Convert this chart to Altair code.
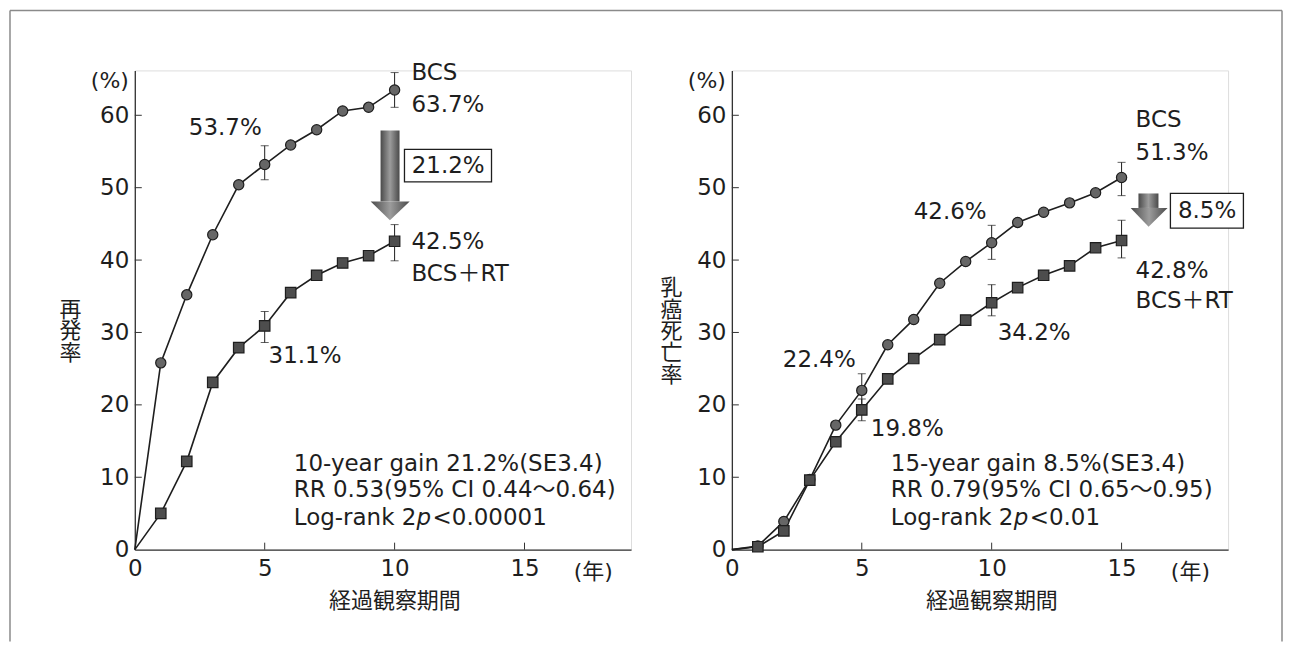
import altair as alt
import pandas as pd

FONT = "DejaVu Sans, 'Noto Sans CJK JP', sans-serif"
JP = "'Noto Sans CJK JP', sans-serif"
INK = "#1e1e1e"

# ---------------- data ----------------
x_ticks = [0, 5, 10, 15]
y_ticks = [0, 10, 20, 30, 40, 50, 60]
x_max = 19.1
y_max = 66.2

years_left = list(range(11))
bcs_left = [0, 25.8, 35.2, 43.5, 50.4, 53.2, 55.9, 58.0, 60.6, 61.1, 63.5]
rt_left = [0, 5.0, 12.2, 23.1, 27.9, 30.9, 35.5, 37.9, 39.6, 40.6, 42.6]

years_right = list(range(16))
bcs_right = [0, 0.5, 3.9, 9.7, 17.2, 22.0, 28.3, 31.8, 36.8, 39.8, 42.4, 45.2, 46.6, 47.9, 49.3, 51.4]
rt_right = [0, 0.4, 2.6, 9.6, 14.9, 19.3, 23.6, 26.4, 29.0, 31.7, 34.1, 36.2, 37.9, 39.2, 41.7, 42.7]

err_years_left = [5, 10]
bcs_lo_left = [51.1, 61.1]
bcs_hi_left = [55.8, 65.9]
rt_lo_left = [28.6, 39.9]
rt_hi_left = [32.9, 44.9]

err_years_right = [5, 10, 15]
bcs_lo_right = [19.8, 40.1, 48.9]
bcs_hi_right = [24.3, 44.8, 53.5]
rt_lo_right = [17.8, 32.3, 40.3]
rt_hi_right = [20.8, 36.6, 45.5]

labels_left = ["BCS", "63.7%", "53.7%", "42.5%", "BCS＋RT", "31.1%"]
labels_left_x = [10.65, 10.65, 2.08, 10.65, 10.65, 5.15]
labels_left_y = [65.9, 61.4, 58.2, 42.5, 38.1, 26.8]

labels_right = ["BCS", "51.3%", "42.6%", "34.2%", "22.4%", "19.8%", "42.8%", "BCS＋RT"]
labels_right_x = [15.54, 15.54, 7.0, 10.23, 1.96, 5.35, 15.54, 15.54]
labels_right_y = [59.3, 54.8, 46.6, 29.9, 26.2, 16.7, 38.5, 34.3]

gain_left = "21.2%"
gain_right = "8.5%"
stats_left = ["10-year gain 21.2%(SE3.4)", "RR 0.53(95% CI 0.44～0.64)"]
stats_right = ["15-year gain 8.5%(SE3.4)", "RR 0.79(95% CI 0.65～0.95)"]
logrank_left = "<0.00001"
logrank_right = "<0.01"

# annotation geometry (data units)
arrow_left = dict(x0=9.46, x1=10.19, top=57.9, base=48.1, hx0=9.08, hc=9.82, hx1=10.58, tip=45.5)
arrow_right = dict(x0=15.65, x1=16.42, top=49.2, base=47.2, hx0=15.35, hc=16.04, hx1=16.77, tip=44.6)
box_left = dict(x0=10.38, x1=13.73, y0=50.8, y1=55.3, tx=12.06, ty=53.0)
box_right = dict(x0=16.88, x1=19.69, y0=44.4, y1=49.2, tx=18.29, ty=46.8)

# ---------------- helpers ----------------
x_scale = alt.Scale(domain=[0, x_max], nice=False, zero=False)
y_scale = alt.Scale(domain=[0, y_max], nice=False, zero=False)


def x_axis():
    return alt.Axis(values=x_ticks, ticks=False, grid=False, domainColor="#333", domainWidth=1.3,
                    labelFont=FONT, labelFontSize=23, labelColor=INK, labelPadding=8, labelFlush=False,
                    title="経過観察期間", titleFont=JP, titleFontSize=22, titleFontWeight="normal",
                    titleColor=INK, titleX=260, titleY=51, titleAlign="center", titleBaseline="middle")


def y_axis(title, tx, ty):
    return alt.Axis(values=y_ticks, ticks=False, grid=False, domainColor="#333", domainWidth=1.3,
                    labelFont=FONT, labelFontSize=23, labelColor=INK, labelPadding=6,
                    title=list(title), titleFont=JP, titleFontSize=22, titleFontWeight="normal",
                    titleColor=INK, titleAngle=0, titleX=tx, titleY=ty, titleAlign="center",
                    titleBaseline="top", titleLineHeight=22)


def X(f="x", ax=None):
    return alt.X(f"{f}:Q", scale=x_scale, axis=ax)


def Y(f="y", ax=None):
    return alt.Y(f"{f}:Q", scale=y_scale, axis=ax)


def panel(years, bcs, rt, ey, blo, bhi, rlo, rhi, labs, lx, ly, arrow, box, gain,
          stats, logrank, ytitle, ytx, tty, frame=False):
    xa = x_axis()
    ya = y_axis(ytitle, ytx, tty)

    lines_df = pd.DataFrame({"x": years + years, "y": bcs + rt,
                             "s": ["BCS"] * len(years) + ["RT"] * len(years)})
    pts_b = pd.DataFrame({"x": years[1:], "y": bcs[1:]})
    pts_r = pd.DataFrame({"x": years[1:], "y": rt[1:]})
    err_df = pd.DataFrame({"x": ey + ey, "y": blo + rlo, "y2": bhi + rhi})
    cap_df = pd.DataFrame({"x": ey * 4, "y": blo + bhi + rlo + rhi})

    layers = []
    layers.append(alt.Chart(lines_df).mark_line(color=INK, strokeWidth=1.6).encode(
        x=X("x", xa), y=Y("y", ya), detail="s:N"))
    layers.append(alt.Chart(err_df).mark_rule(color=INK, strokeWidth=1).encode(
        x=X("x", xa), y=Y("y", ya), y2="y2:Q"))
    layers.append(alt.Chart(cap_df).mark_tick(orient="horizontal", size=8, thickness=1, color=INK).encode(
        x=X("x", xa), y=Y("y", ya)))
    layers.append(alt.Chart(pts_b).mark_circle(size=105, color="#666666", stroke=INK, strokeWidth=1.2,
                                               opacity=1).encode(x=X("x", xa), y=Y("y", ya)))
    layers.append(alt.Chart(pts_r).mark_square(size=110, color="#4d4d4d", stroke=INK, strokeWidth=1.2,
                                               opacity=1).encode(x=X("x", xa), y=Y("y", ya)))

    grad = alt.Gradient(gradient="linear",
                        stops=[alt.GradientStop(color="#4a4a4a", offset=0),
                               alt.GradientStop(color="#9c9c9c", offset=0.5),
                               alt.GradientStop(color="#4a4a4a", offset=1)],
                        x1=0, x2=1, y1=0, y2=0)
    shaft = pd.DataFrame({"x": [arrow["x0"]], "x2": [arrow["x1"]], "y": [arrow["top"]], "y2": [arrow["base"]]})
    layers.append(alt.Chart(shaft).mark_rect(color=grad).encode(
        x=X("x", xa), x2="x2:Q", y=Y("y", ya), y2="y2:Q"))
    head = pd.DataFrame({"x": [arrow["hx0"], arrow["hc"], arrow["hx1"]],
                         "y": [arrow["base"]] * 3,
                         "y2": [arrow["base"], arrow["tip"], arrow["base"]]})
    layers.append(alt.Chart(head).mark_area(color=grad, opacity=1).encode(
        x=X("x", xa), y=Y("y", ya), y2="y2:Q"))

    box_df = pd.DataFrame({"x": [box["x0"]], "x2": [box["x1"]], "y": [box["y0"]], "y2": [box["y1"]]})
    layers.append(alt.Chart(box_df).mark_rect(fill="white", stroke=INK, strokeWidth=1.3).encode(
        x=X("x", xa), x2="x2:Q", y=Y("y", ya), y2="y2:Q"))
    gain_df = pd.DataFrame({"x": [box["tx"]], "y": [box["ty"]], "t": [gain]})
    layers.append(alt.Chart(gain_df).mark_text(font=FONT, fontSize=23, color=INK, align="center",
                                               baseline="middle").encode(
        x=X("x", xa), y=Y("y", ya), text="t:N"))

    lab_df = pd.DataFrame({"x": lx, "y": ly, "t": labs})
    layers.append(alt.Chart(lab_df).mark_text(font=FONT, fontSize=23, color=INK, align="left",
                                              baseline="middle").encode(
        x=X("x", xa), y=Y("y", ya), text="t:N"))

    st_df = pd.DataFrame({"x": [6.12, 6.12], "y": [11.86, 8.28], "t": stats})
    layers.append(alt.Chart(st_df).mark_text(font=FONT, fontSize=23, color=INK, align="left",
                                             baseline="middle").encode(
        x=X("x", xa), y=Y("y", ya), text="t:N"))
    lr = pd.DataFrame({"x": [6.12], "y": [4.41]})
    layers.append(alt.Chart(lr).mark_text(font=FONT, fontSize=23, color=INK, align="left",
                                          baseline="middle", text="Log-rank 2").encode(
        x=X("x", xa), y=Y("y", ya)))
    layers.append(alt.Chart(lr).mark_text(font=FONT, fontSize=23, color=INK, align="left", fontStyle="italic",
                                          baseline="middle", text="p", dx=123).encode(
        x=X("x", xa), y=Y("y", ya)))
    layers.append(alt.Chart(lr).mark_text(font=FONT, fontSize=23, color=INK, align="left",
                                          baseline="middle", text=logrank, dx=139).encode(
        x=X("x", xa), y=Y("y", ya)))

    unit_df = pd.DataFrame({"x": [0], "y": [64.7]})
    layers.append(alt.Chart(unit_df).mark_text(font=FONT, fontSize=22, color=INK, align="right",
                                               baseline="middle", text="(%)", dx=-6).encode(
        x=X("x", xa), y=Y("y", ya)))
    yr_df = pd.DataFrame({"x": [17.65], "y": [0]})
    layers.append(alt.Chart(yr_df).mark_text(font=FONT, fontSize=22, color=INK, align="center",
                                             baseline="middle", text="(年)", dy=22).encode(
        x=X("x", xa), y=Y("y", ya)))

    yt = pd.DataFrame({"y": y_ticks[1:]})
    layers.append(alt.Chart(yt).mark_rule(color="#333", strokeWidth=1).encode(
        y=Y("y", ya), x=alt.value(0), x2=alt.value(7)))
    xt = pd.DataFrame({"x": x_ticks[1:]})
    layers.append(alt.Chart(xt).mark_rule(color="#333", strokeWidth=1).encode(
        x=X("x", xa), y=alt.value(480), y2=alt.value(473)))

    if frame:
        dummy = pd.DataFrame({"a": [0]})
        fc = "#8a8a8a"
        layers.append(alt.Chart(dummy).mark_rule(color=fc, strokeWidth=1.5).encode(
            x=alt.value(-125), y=alt.value(-60), y2=alt.value(572)))
        layers.append(alt.Chart(dummy).mark_rule(color=fc, strokeWidth=1.5).encode(
            x=alt.value(-125), x2=alt.value(1149), y=alt.value(-60)))
        layers.append(alt.Chart(dummy).mark_rule(color=fc, strokeWidth=1.5).encode(
            x=alt.value(1149), y=alt.value(-60), y2=alt.value(572)))

    return alt.layer(*layers).properties(width=497, height=480)


left = panel(years_left, bcs_left, rt_left, err_years_left, bcs_lo_left, bcs_hi_left,
             rt_lo_left, rt_hi_left, labels_left, labels_left_x, labels_left_y,
             arrow_left, box_left, gain_left, stats_left, logrank_left,
             "再発率", -65, 229, frame=True)
right = panel(years_right, bcs_right, rt_right, err_years_right, bcs_lo_right, bcs_hi_right,
              rt_lo_right, rt_hi_right, labels_right, labels_right_x, labels_right_y,
              arrow_right, box_right, gain_right, stats_right, logrank_right,
              "乳癌死亡率", -61, 207)

chart = alt.hconcat(left, right, spacing=101, bounds="flush").properties(padding=0).configure_view(
    stroke="transparent").configure(background="white")

chart.save("out.html", embed_options={"renderer": "svg", "actions": False})
